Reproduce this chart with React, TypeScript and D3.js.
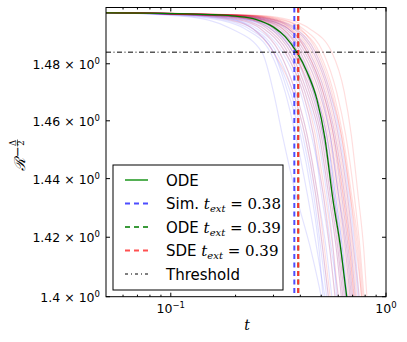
import React from 'react'
import * as d3 from 'd3'

// ODE solution
const odeT = [0.05, 0.08, 0.12, 0.16, 0.2, 0.25, 0.3, 0.34, 0.385, 0.43, 0.478, 0.52, 0.567, 0.611, 0.657, 0.68]
const odeR = [1.4981, 1.498, 1.4977, 1.4974, 1.4969, 1.4957, 1.493, 1.4896, 1.4841, 1.477, 1.4673, 1.454, 1.4327, 1.418, 1.4, 1.392]

// sample trajectories: t at which each one crosses these levels
const levels = [1.4982, 1.4972, 1.4955, 1.4925, 1.4841, 1.47, 1.455, 1.435, 1.415, 1.4, 1.39]

const simRuns = [
  [0.05, 0.10, 0.15, 0.19, 0.265, 0.30, 0.33, 0.38, 0.45, 0.50, 0.53],
  [0.05, 0.11, 0.17, 0.22, 0.29, 0.34, 0.38, 0.43, 0.48, 0.52, 0.55],
  [0.05, 0.12, 0.19, 0.24, 0.31, 0.37, 0.42, 0.47, 0.51, 0.54, 0.56],
  [0.05, 0.13, 0.20, 0.25, 0.32, 0.38, 0.43, 0.48, 0.53, 0.56, 0.58],
  [0.05, 0.14, 0.21, 0.26, 0.33, 0.40, 0.45, 0.51, 0.56, 0.60, 0.62],
  [0.05, 0.15, 0.22, 0.27, 0.34, 0.41, 0.46, 0.50, 0.55, 0.58, 0.60],
  [0.05, 0.16, 0.23, 0.28, 0.35, 0.42, 0.48, 0.53, 0.57, 0.59, 0.61],
  [0.05, 0.15, 0.23, 0.29, 0.36, 0.43, 0.49, 0.54, 0.59, 0.62, 0.64],
  [0.05, 0.17, 0.24, 0.29, 0.37, 0.44, 0.50, 0.55, 0.60, 0.63, 0.65],
  [0.05, 0.16, 0.24, 0.30, 0.37, 0.45, 0.51, 0.57, 0.62, 0.65, 0.67],
  [0.05, 0.18, 0.25, 0.30, 0.38, 0.46, 0.52, 0.57, 0.62, 0.65, 0.67],
  [0.05, 0.17, 0.25, 0.31, 0.39, 0.46, 0.51, 0.56, 0.61, 0.64, 0.66],
  [0.05, 0.18, 0.26, 0.31, 0.39, 0.47, 0.53, 0.58, 0.63, 0.66, 0.68],
  [0.05, 0.19, 0.27, 0.32, 0.40, 0.47, 0.53, 0.58, 0.63, 0.66, 0.68],
  [0.05, 0.18, 0.27, 0.33, 0.41, 0.49, 0.55, 0.60, 0.65, 0.68, 0.70],
  [0.05, 0.20, 0.28, 0.34, 0.42, 0.50, 0.55, 0.60, 0.66, 0.69, 0.71],
  [0.05, 0.19, 0.28, 0.35, 0.43, 0.51, 0.57, 0.62, 0.67, 0.70, 0.72],
  [0.05, 0.21, 0.29, 0.35, 0.44, 0.52, 0.58, 0.64, 0.69, 0.72, 0.74],
  [0.05, 0.20, 0.30, 0.37, 0.46, 0.54, 0.60, 0.66, 0.71, 0.74, 0.76],
  [0.05, 0.14, 0.20, 0.24, 0.30, 0.36, 0.41, 0.46, 0.50, 0.53, 0.55],
  [0.05, 0.12, 0.18, 0.23, 0.30, 0.35, 0.40, 0.45, 0.49, 0.51, 0.53],
  [0.05, 0.22, 0.31, 0.38, 0.47, 0.55, 0.61, 0.67, 0.72, 0.75, 0.77],
]

const sdeRuns = [
  [0.05, 0.14, 0.21, 0.26, 0.32, 0.38, 0.43, 0.48, 0.52, 0.55, 0.57],
  [0.05, 0.15, 0.22, 0.27, 0.34, 0.41, 0.46, 0.51, 0.55, 0.58, 0.60],
  [0.05, 0.16, 0.24, 0.29, 0.36, 0.43, 0.49, 0.54, 0.59, 0.62, 0.64],
  [0.05, 0.17, 0.25, 0.30, 0.37, 0.45, 0.51, 0.56, 0.61, 0.64, 0.66],
  [0.05, 0.16, 0.25, 0.31, 0.38, 0.46, 0.52, 0.57, 0.62, 0.65, 0.67],
  [0.05, 0.18, 0.26, 0.32, 0.39, 0.47, 0.53, 0.59, 0.64, 0.67, 0.69],
  [0.05, 0.19, 0.27, 0.33, 0.40, 0.48, 0.54, 0.60, 0.65, 0.68, 0.70],
  [0.05, 0.18, 0.27, 0.33, 0.41, 0.49, 0.55, 0.61, 0.66, 0.69, 0.71],
  [0.05, 0.20, 0.28, 0.34, 0.42, 0.50, 0.56, 0.62, 0.67, 0.70, 0.72],
  [0.05, 0.19, 0.28, 0.35, 0.43, 0.51, 0.57, 0.63, 0.68, 0.71, 0.73],
  [0.05, 0.21, 0.29, 0.35, 0.44, 0.52, 0.58, 0.64, 0.69, 0.72, 0.74],
  [0.05, 0.20, 0.30, 0.36, 0.45, 0.53, 0.59, 0.65, 0.70, 0.73, 0.75],
  [0.05, 0.22, 0.31, 0.37, 0.46, 0.54, 0.60, 0.66, 0.71, 0.75, 0.77],
  [0.05, 0.21, 0.31, 0.38, 0.47, 0.55, 0.62, 0.68, 0.73, 0.77, 0.79],
  [0.05, 0.23, 0.32, 0.39, 0.49, 0.57, 0.63, 0.69, 0.75, 0.78, 0.80],
  [0.05, 0.24, 0.34, 0.41, 0.51, 0.59, 0.65, 0.71, 0.76, 0.79, 0.81],
  [0.05, 0.25, 0.36, 0.44, 0.56, 0.64, 0.69, 0.74, 0.79, 0.815, 0.83],
  [0.05, 0.17, 0.24, 0.28, 0.35, 0.42, 0.47, 0.52, 0.57, 0.60, 0.62],
  [0.05, 0.19, 0.26, 0.31, 0.38, 0.44, 0.50, 0.55, 0.60, 0.63, 0.65],
  [0.05, 0.13, 0.19, 0.24, 0.30, 0.37, 0.42, 0.47, 0.51, 0.54, 0.56],
  [0.05, 0.22, 0.30, 0.36, 0.43, 0.51, 0.57, 0.63, 0.68, 0.71, 0.73],
  [0.05, 0.23, 0.33, 0.40, 0.48, 0.56, 0.62, 0.68, 0.74, 0.77, 0.79],
]

const threshold = 1.4841
// extinction times as drawn (legend shows them rounded)
const tSim = 0.375
const tOde = 0.391
const tSde = 0.391

const yTicks = [1.4, 1.42, 1.44, 1.46, 1.48]
const yTickLabels = ['1.4', '1.42', '1.44', '1.46', '1.48']
const xMajor = [0.1, 1]
const xMajorLabels = [['10', '\u22121'], ['10', '0']]
const xMinor = [0.06, 0.07, 0.08, 0.09, 0.2, 0.3, 0.4, 0.5, 0.6, 0.7, 0.8, 0.9]

const legendItems = [
  { name: 'ODE', color: '#55b055', dash: '', t: '' },
  { name: 'Sim. ', color: '#4d4dff', dash: '5,4', t: '0.38' },
  { name: 'ODE ', color: '#3a9a3a', dash: '5,4', t: '0.39' },
  { name: 'SDE ', color: '#ff5050', dash: '5,4', t: '0.39' },
  { name: 'Threshold', color: '#000', dash: '3,3,1,3', t: '' },
]

const W = 407
const H = 342
const L = 106
const R = 386
const T = 7.5
const B = 296.7

export default function App() {
  const x = d3.scaleLog().domain([0.05, 1]).range([L, R])
  const y = d3.scaleLog().domain([1.4, 1.5]).range([B, T])
  const runLine = d3.line<[number, number]>()
    .x(d => x(d[0]))
    .y(d => y(d[1]))
    .curve(d3.curveMonotoneX)
  const odeLine = runLine(odeT.map((t, i) => [t, odeR[i]] as [number, number]))
  const font = 'DejaVu Sans, sans-serif'
  const serif = 'DejaVu Serif, serif'

  return (
    <svg width={W} height={H} style={{ position: 'absolute', left: 0, top: 0, background: '#fff' }}>
      <defs>
        <clipPath id="plot">
          <rect x={L} y={T} width={R - L} height={B - T} />
        </clipPath>
      </defs>
      <g clipPath="url(#plot)">
        {simRuns.map((r, k) => (
          <path key={'s' + k} d={runLine(r.map((t, i) => [t, levels[i]] as [number, number])) || ''}
            fill="none" stroke="#0000ff" strokeOpacity={0.11} strokeWidth={1.2} />
        ))}
        {sdeRuns.map((r, k) => (
          <path key={'r' + k} d={runLine(r.map((t, i) => [t, levels[i]] as [number, number])) || ''}
            fill="none" stroke="#ff0000" strokeOpacity={0.13} strokeWidth={1.2} />
        ))}
        <path d={odeLine || ''} fill="none" stroke="#007a00" strokeWidth={1.3} />
        <line x1={x(tSim)} x2={x(tSim)} y1={T} y2={B} stroke="#4d4dff" strokeWidth={2} strokeDasharray="5,3.5" />
        <line x1={x(tOde)} x2={x(tOde)} y1={T} y2={B} stroke="#3a9a3a" strokeWidth={2} strokeDasharray="5,3.5" />
        <line x1={x(tSde)} x2={x(tSde)} y1={T} y2={B} stroke="#ff3030" strokeWidth={2} strokeDasharray="5,3.5" />
        <line x1={L} x2={R} y1={y(threshold)} y2={y(threshold)} stroke="#000" strokeWidth={1} strokeDasharray="5,2.5,1,2.5" />
      </g>

      <rect x={L} y={T} width={R - L} height={B - T} fill="none" stroke="#000" strokeWidth={1} />

      {yTicks.map((v, i) => (
        <g key={'y' + i}>
          <line x1={L} x2={L + 4} y1={y(v)} y2={y(v)} stroke="#000" />
          <line x1={R - 4} x2={R} y1={y(v)} y2={y(v)} stroke="#000" />
          <text x={100} y={y(v) + 5} textAnchor="end" fontFamily={font} fontSize={12.5} fill="#000">
            {yTickLabels[i] + ' \u00d7 10'}
            <tspan fontSize={8.5} dy={-5}>0</tspan>
          </text>
        </g>
      ))}
      {xMajor.map((v, i) => (
        <g key={'x' + i}>
          <line x1={x(v)} x2={x(v)} y1={B} y2={B - 4} stroke="#000" />
          <line x1={x(v)} x2={x(v)} y1={T} y2={T + 4} stroke="#000" />
          <text x={x(v)} y={313} textAnchor="middle" fontFamily={font} fontSize={12.5} fill="#000">
            {xMajorLabels[i][0]}
            <tspan fontSize={8.5} dy={-5}>{xMajorLabels[i][1]}</tspan>
          </text>
        </g>
      ))}
      {xMinor.map((v, i) => (
        <g key={'m' + i}>
          <line x1={x(v)} x2={x(v)} y1={B} y2={B - 2} stroke="#000" />
          <line x1={x(v)} x2={x(v)} y1={T} y2={T + 2} stroke="#000" />
        </g>
      ))}

      <text x={(L + R) / 2 + 1} y={330} textAnchor="middle" fontFamily={serif} fontStyle="italic" fontSize={14}>t</text>

      <g transform="translate(25,154) rotate(-90)" fontFamily={serif} fill="#000">
        <text x={-17} y={0} fontSize={15} fontStyle="italic">{'\u211b'}</text>
        <text x={-3} y={-3} fontSize={13}>{'\u2212'}</text>
        <text x={11} y={-9.5} fontSize={8.5} textAnchor="middle">{'\u0394'}</text>
        <line x1={7.5} x2={14.5} y1={-7.5} y2={-7.5} stroke="#000" strokeWidth={0.6} />
        <text x={11} y={-1} fontSize={8.5} textAnchor="middle">2</text>
      </g>

      <rect x={113} y={165} width={170} height={125} fill="#fff" stroke="#000" strokeWidth={1} />
      {legendItems.map((it, i) => {
        const cy = 180 + i * 23.5
        return (
          <g key={'l' + i}>
            <line x1={125} x2={148} y1={cy} y2={cy} stroke={it.color}
              strokeWidth={it.name === 'Threshold' ? 1 : 2} strokeDasharray={it.dash || undefined} />
            <text x={166} y={cy + 5.5} fontFamily={font} fontSize={15} fill="#000">
              {it.name}
              {it.t && (
                <>
                  <tspan fontFamily={serif} fontStyle="italic">t</tspan>
                  <tspan fontFamily={serif} fontStyle="italic" fontSize={10} dy={3}>ext</tspan>
                  <tspan fontFamily={serif} dy={-3}>{' = ' + it.t}</tspan>
                </>
              )}
            </text>
          </g>
        )
      })}
    </svg>
  )
}
